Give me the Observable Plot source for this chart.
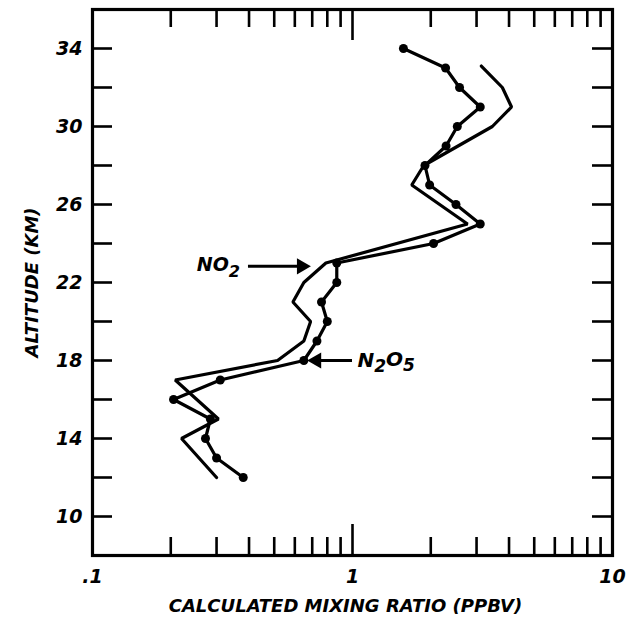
<!DOCTYPE html>
<html><head><meta charset="utf-8">
<script src="https://cdn.jsdelivr.net/npm/d3@7"></script>
<script src="https://cdn.jsdelivr.net/npm/@observablehq/plot@0.6"></script>
<style>body{margin:0;background:#fff}</style>
</head><body><div id="chart"></div>
<script>
// N2O5 (with dots)
const n2o5Alt = [34,33,32,31,30,29,28,27,26,25,24,23,22,21,20,19,18,17,16,15,14,13,12];
const n2o5Val = [1.57,2.28,2.58,3.1,2.53,2.29,1.9,1.98,2.5,3.1,2.05,0.87,0.87,0.76,0.80,0.73,0.65,0.31,0.205,0.284,0.272,0.30,0.38];
// NO2 (plain line)
const no2Alt = [33.1,32,31,30,28,27,25,23,22,21,20,19,18,17,15,14,12];
const no2Val = [3.13,3.77,4.09,3.45,1.88,1.69,2.77,0.79,0.65,0.59,0.69,0.65,0.515,0.208,0.305,0.22,0.30];
// axes
const xLabels = [0.1, 1, 10];
const xLabelText = [".1", "1", "10"];
const xMinor = [0.2,0.3,0.4,0.5,0.6,0.7,0.8,0.9,2,3,4,5,6,7,8,9];
const xMajor = [1];
const yLabels = [10,14,18,22,26,30,34];
const yTicks = [10,12,14,16,18,20,22,24,26,28,30,32,34];
// annotations
const no2Label = [{text: "NO2", x: 0.305, y: 22.88}];
const n2o5Label = [{text: "N2O5", x: 1.045, y: 18.0}];
const arrows = [
  {x1: 0.398, x2: 0.62, tip: 0.637, y: 22.83, rot: 90},
  {x1: 1.0, x2: 0.74, tip: 0.727, y: 18.0, rot: -90}
];

const n2o5 = n2o5Alt.map((a, i) => ({alt: a, v: n2o5Val[i]}));
const no2 = no2Alt.map((a, i) => ({alt: a, v: no2Val[i]}));

const W = 641, H = 622, mL = 92, mR = 29, mT = 9, mB = 67;
const innerW = W - mL - mR, innerH = H - mT - mB;
const font = {fontFamily: "DejaVu Sans", fontWeight: "bold", fontStyle: "italic", fill: "black"};

const chart = Plot.plot({
  width: W, height: H,
  marginLeft: mL, marginRight: mR, marginTop: mT, marginBottom: mB,
  style: {fontFamily: "DejaVu Sans", fontWeight: "bold", fontStyle: "italic", background: "white", color: "black"},
  x: {type: "log", domain: [0.1, 10], axis: null},
  y: {domain: [8, 36], axis: null},
  marks: [
    // inward ticks
    Plot.tickX(xMinor, {x: d => d, insetTop: innerH - 18, strokeWidth: 2.6}),
    Plot.tickX(xMinor, {x: d => d, insetBottom: innerH - 18, strokeWidth: 2.6}),
    Plot.tickX(xMajor, {x: d => d, insetTop: innerH - 31, strokeWidth: 2.6}),
    Plot.tickX(xMajor, {x: d => d, insetBottom: innerH - 31, strokeWidth: 2.6}),
    Plot.tickY(yTicks, {y: d => d, insetRight: innerW - 20, strokeWidth: 2.6}),
    Plot.tickY(yTicks, {y: d => d, insetLeft: innerW - 20, strokeWidth: 2.6}),
    Plot.frame({strokeWidth: 3.2}),
    // tick labels
    Plot.text(xLabels, {x: d => d, frameAnchor: "bottom", dy: 27, text: (d, i) => xLabelText[i], fontSize: 19, ...font}),
    Plot.text(yLabels, {y: d => d, frameAnchor: "left", dx: -10, textAnchor: "end", text: d => String(d), fontSize: 19, ...font}),
    // titles
    Plot.text(["CALCULATED MIXING RATIO (PPBV)"], {frameAnchor: "bottom", textAnchor: "middle", dx: -7, dy: 56, fontSize: 18, letterSpacing: 0.6, ...font}),
    Plot.text(["ALTITUDE (KM)"], {frameAnchor: "left", textAnchor: "middle", dx: -60, rotate: -90, fontSize: 18, letterSpacing: 1, ...font}),
    // data
    Plot.line(no2, {x: "v", y: "alt", stroke: "black", strokeWidth: 3.2, strokeLinejoin: "miter"}),
    Plot.line(n2o5, {x: "v", y: "alt", stroke: "black", strokeWidth: 3.2}),
    Plot.dot(n2o5, {x: "v", y: "alt", r: 4.5, fill: "black"}),
    // annotations
    Plot.ruleY(arrows, {x1: "x1", x2: "x2", y: "y", strokeWidth: 3}),
    Plot.dot(arrows, {x: "tip", y: "y", symbol: "triangle", rotate: "rot", r: 6, fill: "black"}),
    Plot.text(no2Label, {x: "x", y: "y", text: "text", textAnchor: "middle", fontSize: 19, ...font}),
    Plot.text(n2o5Label, {x: "x", y: "y", text: "text", textAnchor: "start", fontSize: 20, letterSpacing: 5, ...font})
  ]
});
// render chemical formula digits as subscripts
d3.select(chart).selectAll("text").each(function() {
  const t = this.textContent;
  if (t !== "NO2" && t !== "N2O5") return;
  const el = d3.select(this);
  el.text(null);
  let sub = false;
  for (const ch of t) {
    const isDigit = /\d/.test(ch);
    const ts = el.append("tspan").text(ch);
    if (isDigit && !sub) { ts.attr("dy", "0.32em").attr("font-size", "85%"); sub = true; }
    else if (!isDigit && sub) { ts.attr("dy", "-0.32em"); sub = false; }
    else if (isDigit) ts.attr("font-size", "85%");
  }
});
document.getElementById("chart").appendChild(chart);
</script>
</body></html>
